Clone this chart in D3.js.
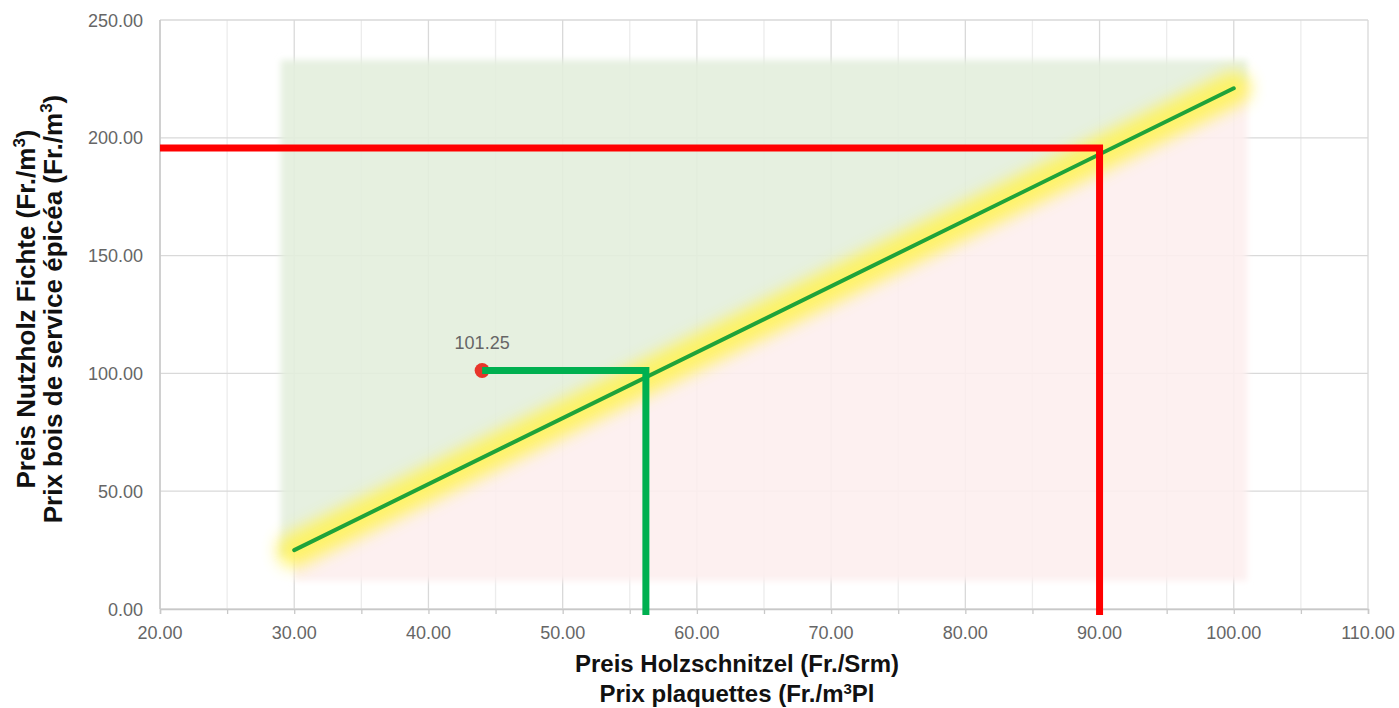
<!DOCTYPE html>
<html>
<head>
<meta charset="utf-8">
<script src="https://cdn.jsdelivr.net/npm/d3@7"></script>
<style>
  body { margin: 0; background: #fff; }
  svg { font-family: "Liberation Sans", Arial, sans-serif; }
</style>
</head>
<body>
<div id="chart"></div>
<script>
// values
const xTickValues = [20, 25, 30, 35, 40, 45, 50, 55, 60, 65, 70, 75, 80, 85, 90, 95, 100, 105, 110];
const xLabelValues = [20, 30, 40, 50, 60, 70, 80, 90, 100, 110];
const yTickValues = [0, 50, 100, 150, 200, 250];
const lineX = [30, 100];
const lineY = [25, 221];
const zoneX = [29, 101];
const zoneY = [12, 233];
const pointX = 44, pointY = 101.25, pointCrossX = 56.2;
const refX = 90, refY = 195.7;

const margin = {top: 20, right: 31, bottom: 99, left: 160},
  width = 1399 - margin.left - margin.right,
  height = 708 - margin.top - margin.bottom;

const svg = d3.select("#chart")
  .append("svg")
    .attr("width", 1399)
    .attr("height", 708);

const defs = svg.append("defs");
defs.append("filter").attr("id", "soft")
  .attr("x", "-10%").attr("y", "-10%").attr("width", "120%").attr("height", "120%")
  .append("feGaussianBlur").attr("stdDeviation", 3);
defs.append("filter").attr("id", "glow")
  .attr("x", "-20%").attr("y", "-20%").attr("width", "140%").attr("height", "140%")
  .append("feGaussianBlur").attr("stdDeviation", 8);

const g = svg.append("g")
    .attr("transform", `translate(${margin.left},${margin.top})`);

const x = d3.scaleLinear().domain([20, 110]).range([0, width]);
const y = d3.scaleLinear().domain([0, 250]).range([height, 0]);

// grid
g.append("g")
  .selectAll("line")
  .data(xTickValues)
  .join("line")
    .attr("x1", d => x(d)).attr("x2", d => x(d))
    .attr("y1", 0).attr("y2", height)
    .attr("stroke", d => d % 10 === 0 ? "#d9d9d9" : "#ececec")
    .attr("stroke-width", 1.3);
g.append("g")
  .selectAll("line")
  .data(yTickValues)
  .join("line")
    .attr("x1", 0).attr("x2", width)
    .attr("y1", d => y(d)).attr("y2", d => y(d))
    .attr("stroke", "#d9d9d9")
    .attr("stroke-width", 1.3);

// background zones
const f = v => lineY[0] + (v - lineX[0]) * (lineY[1] - lineY[0]) / (lineX[1] - lineX[0]);
const zones = g.append("g").attr("filter", "url(#soft)");
zones.append("path")
  .attr("d", d3.line()([[x(zoneX[0]), y(zoneY[1])], [x(zoneX[1]), y(zoneY[1])], [x(zoneX[1]), y(f(zoneX[1]))], [x(zoneX[0]), y(f(zoneX[0]))]]))
  .attr("fill", "#e3eedd")
  .attr("opacity", 0.9);
zones.append("path")
  .attr("d", d3.line()([[x(zoneX[0] + 1), y(f(zoneX[0] + 1))], [x(zoneX[1]), y(f(zoneX[1]))], [x(zoneX[1]), y(zoneY[0])], [x(zoneX[0] + 1), y(zoneY[0])]]))
  .attr("fill", "#fdeeee")
  .attr("opacity", 0.9);

// yellow glow + break-even line
const linePts = lineX.map((v, i) => [x(v), y(lineY[i])]);
g.append("path")
  .attr("d", d3.line()(linePts))
  .attr("stroke", "#fff35a")
  .attr("stroke-width", 34)
  .attr("stroke-linecap", "round")
  .attr("fill", "none")
  .attr("opacity", 0.9)
  .attr("filter", "url(#glow)");
g.append("path")
  .attr("d", d3.line()(linePts))
  .attr("stroke", "#1fa33a")
  .attr("stroke-width", 4)
  .attr("stroke-linecap", "round")
  .attr("fill", "none");

// axis
const xAxis = g.append("g")
  .attr("transform", `translate(0,${height})`)
  .call(d3.axisBottom(x).tickValues(xTickValues).tickSize(5).tickFormat(""));
xAxis.select(".domain").attr("stroke", "#c8c8c8").attr("stroke-width", 1.5);
xAxis.selectAll(".tick line").attr("stroke", "#c8c8c8").attr("stroke-width", 1.3);

g.append("line")
  .attr("x1", 0).attr("x2", 0).attr("y1", 0).attr("y2", height)
  .attr("stroke", "#c8c8c8").attr("stroke-width", 1.5);

g.append("g")
  .selectAll("text")
  .data(xLabelValues)
  .join("text")
    .attr("x", d => x(d))
    .attr("y", height + 30)
    .attr("text-anchor", "middle")
    .attr("fill", "#666")
    .attr("font-size", 18)
    .text(d => d.toFixed(2));

g.append("g")
  .selectAll("text")
  .data(yTickValues)
  .join("text")
    .attr("x", -17)
    .attr("y", d => y(d) + 6.5)
    .attr("text-anchor", "end")
    .attr("fill", "#666")
    .attr("font-size", 18)
    .text(d => d.toFixed(2));

// red reference lines
g.append("path")
  .attr("d", d3.line()([[x(20), y(refY)], [x(refX), y(refY)], [x(refX), height + 6]]))
  .attr("stroke", "#ff0000")
  .attr("stroke-width", 7)
  .attr("fill", "none");

// current point and green lines
g.append("circle")
  .attr("cx", x(pointX)).attr("cy", y(pointY))
  .attr("r", 7.5)
  .attr("fill", "#e8352b");
g.append("path")
  .attr("d", d3.line()([[x(pointX), y(pointY)], [x(pointCrossX), y(pointY)], [x(pointCrossX), height + 6]]))
  .attr("stroke", "#00b050")
  .attr("stroke-width", 7)
  .attr("fill", "none");
g.append("text")
  .attr("x", x(pointX))
  .attr("y", y(pointY) - 21)
  .attr("text-anchor", "middle")
  .attr("fill", "#666")
  .attr("font-size", 18)
  .text(pointY.toFixed(2));

// axis titles
const xt = svg.append("text")
  .attr("text-anchor", "middle")
  .attr("font-weight", "bold")
  .attr("font-size", 24)
  .attr("fill", "#111");
xt.append("tspan").attr("x", 737).attr("y", 672).text("Preis Holzschnitzel (Fr./Srm)");
const xt2 = xt.append("tspan").attr("x", 737).attr("y", 702).text("Prix plaquettes (Fr./m");
xt2.append("tspan").attr("font-size", 15).attr("dy", -8).text("3");
xt.append("tspan").attr("dy", 8).text("Pl");

const yt = svg.append("text")
  .attr("transform", "translate(0,309) rotate(-90)")
  .attr("text-anchor", "middle")
  .attr("font-weight", "bold")
  .attr("font-size", 26)
  .attr("fill", "#111");
yt.append("tspan").attr("x", 0).attr("y", 35).text("Preis Nutzholz Fichte (Fr./m");
yt.append("tspan").attr("font-size", 17).attr("dy", -10).text("3");
yt.append("tspan").attr("dy", 10).text(")");
yt.append("tspan").attr("x", 0).attr("y", 62).text("Prix bois de service épicéa (Fr./m");
yt.append("tspan").attr("font-size", 17).attr("dy", -10).text("3");
yt.append("tspan").attr("dy", 10).text(")");
</script>
</body>
</html>
